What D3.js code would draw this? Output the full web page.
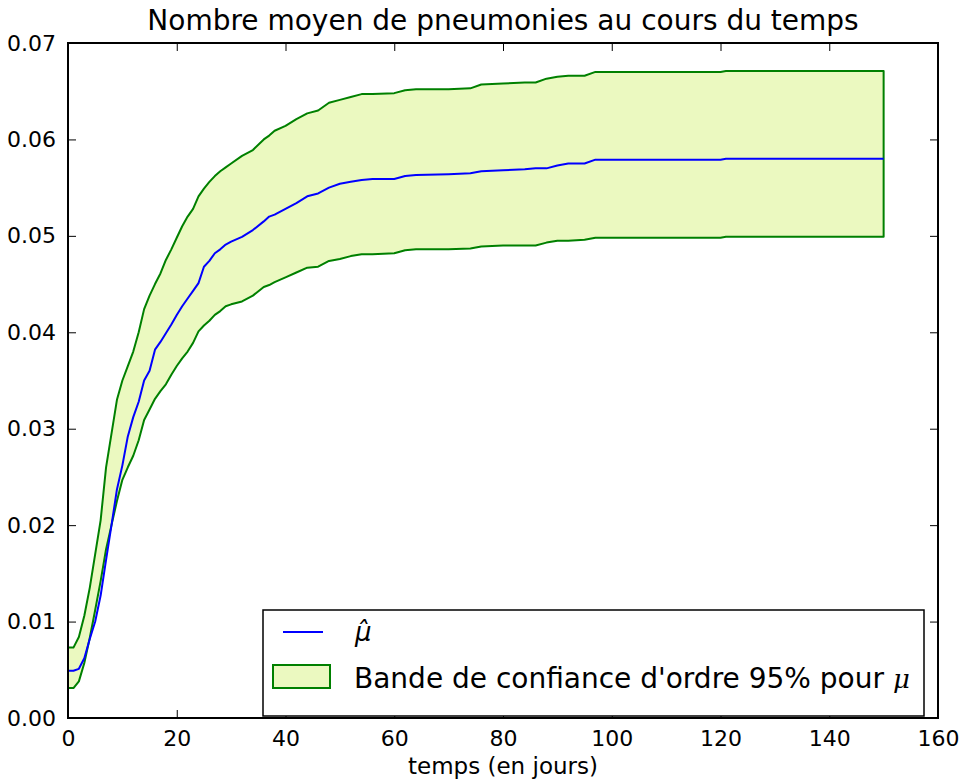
<!DOCTYPE html>
<html>
<head>
<meta charset="utf-8">
<script src="https://cdn.jsdelivr.net/npm/d3@7"></script>
<style>
  html, body { margin: 0; padding: 0; background: #ffffff; }
  svg { display: block; }
  text { font-family: "DejaVu Sans", sans-serif; fill: #000; }
</style>
</head>
<body>
<svg id="chart" width="968" height="783"></svg>
<script>
// ---- data ----
const days = [0,1,2,3,4,5,6,7,8,9,10,11,12,13,14,15,16,17,18,19,20,21,22,23,24,25,26,27,28,29,30,32,34,36,37,38,40,42,44,46,48,50,52,54,56,60,62,64,70,74,76,80,84,86,88,90,92,95,97,120,121,150];
const muHat = [.0049,.0049,.0051,.0062,.0082,.0100,.0127,.0164,.0200,.0237,.0262,.0292,.0312,.0328,.0350,.0360,.0382,.0390,.0399,.0408,.0418,.0427,.0435,.0443,.0451,.0468,.0474,.0482,.0486,.0491,.0494,.0499,.0506,.0515,.0520,.0522,.0528,.0534,.0541,.0544,.0550,.0554,.0556,.0558,.0559,.0559,.0562,.0563,.0564,.0565,.0567,.0568,.0569,.0570,.0570,.0573,.0575,.0575,.0579,.0579,.0580,.0580];
const upper = [.0073,.0073,.0084,.0106,.0135,.0170,.0205,.0260,.0295,.0330,.0350,.0365,.0380,.0400,.0424,.0438,.0450,.0461,.0475,.0486,.0498,.0510,.0520,.0528,.0541,.0549,.0556,.0562,.0567,.0571,.0575,.0583,.0589,.0600,.0604,.0609,.0614,.0621,.0627,.0630,.0638,.0641,.0644,.0647,.0647,.0648,.0651,.0652,.0652,.0653,.0657,.0658,.0659,.0659,.0663,.0665,.0666,.0666,.0670,.0670,.0671,.0671];
const lower = [.0031,.0031,.0038,.0057,.0083,.0112,.0142,.0175,.0200,.0225,.0247,.0260,.0272,.0288,.0309,.0320,.0331,.0339,.0346,.0356,.0365,.0373,.0380,.0389,.0401,.0407,.0412,.0418,.0422,.0427,.0429,.0432,.0438,.0447,.0449,.0452,.0457,.0462,.0467,.0468,.0474,.0476,.0479,.0481,.0481,.0482,.0485,.0486,.0486,.0487,.0489,.0490,.0490,.0490,.0493,.0495,.0495,.0496,.0498,.0498,.0499,.0499];
const xTicks = [0,20,40,60,80,100,120,140,160];
const yTicks = [0,0.01,0.02,0.03,0.04,0.05,0.06,0.07];
const title = "Nombre moyen de pneumonies au cours du temps";
const xLabel = "temps (en jours)";
const legendBand = "Bande de confiance d'ordre 95% pour ";

// ---- layout ----
const L = 68, R = 938, T = 43, B = 718;
const svg = d3.select("#chart");
const x = d3.scaleLinear().domain([0, 160]).range([L, R]);
const y = d3.scaleLinear().domain([0, 0.07]).range([B, T]);

const pts = days.map((d, i) => ({d, m: muHat[i], lo: lower[i], hi: upper[i]}));

// band polygon (upper forward, lower backward) with outline
const bandPts = pts.map(p => [x(p.d), y(p.hi)])
  .concat(pts.slice().reverse().map(p => [x(p.d), y(p.lo)]));
svg.append("path")
  .attr("d", d3.line()(bandPts) + "Z")
  .attr("fill", "#ebf9c0")
  .attr("stroke", "#008000")
  .attr("stroke-width", 2)
  .attr("stroke-linejoin", "round");

// mean line
svg.append("path")
  .datum(pts)
  .attr("d", d3.line().x(p => x(p.d)).y(p => y(p.m)))
  .attr("fill", "none")
  .attr("stroke", "#0000ff")
  .attr("stroke-width", 2)
  .attr("stroke-linejoin", "round");

// axes with inward ticks
const fmtY = d3.format(".2f");
const axB = d3.axisBottom(x).tickValues(xTicks).tickSizeInner(-8).tickSizeOuter(0).tickPadding(12).tickFormat(d3.format("d"));
const axT = d3.axisTop(x).tickValues(xTicks).tickSizeInner(-8).tickSizeOuter(0).tickFormat("");
const axL = d3.axisLeft(y).tickValues(yTicks).tickSizeInner(-8).tickSizeOuter(0).tickPadding(12).tickFormat(fmtY);
const axR = d3.axisRight(y).tickValues(yTicks).tickSizeInner(-8).tickSizeOuter(0).tickFormat("");

function styleAxis(g) {
  g.select(".domain").remove();
  g.selectAll(".tick line").attr("stroke", "#000").attr("stroke-width", 1);
  g.selectAll(".tick text").attr("font-family", "DejaVu Sans").attr("font-size", 22).attr("fill", "#000");
}
svg.append("g").attr("transform", `translate(0,${B})`).call(axB).call(styleAxis);
svg.append("g").attr("transform", `translate(0,${T})`).call(axT).call(styleAxis);
svg.append("g").attr("transform", `translate(${L},0)`).call(axL).call(styleAxis);
svg.append("g").attr("transform", `translate(${R},0)`).call(axR).call(styleAxis);

// frame
svg.append("rect")
  .attr("x", L).attr("y", T).attr("width", R - L).attr("height", B - T)
  .attr("fill", "none").attr("stroke", "#000").attr("stroke-width", 2);

// title & x label
svg.append("text").attr("x", (L + R) / 2).attr("y", 30)
  .attr("text-anchor", "middle").attr("font-size", 28).text(title);
svg.append("text").attr("x", (L + R) / 2).attr("y", 774)
  .attr("text-anchor", "middle").attr("font-size", 23).text(xLabel);

// legend
const lg = svg.append("g");
lg.append("rect").attr("x", 263).attr("y", 610).attr("width", 661).attr("height", 106)
  .attr("fill", "#fff").attr("stroke", "#000").attr("stroke-width", 1.5);
lg.append("line").attr("x1", 283).attr("x2", 323).attr("y1", 632).attr("y2", 632)
  .attr("stroke", "#0000ff").attr("stroke-width", 2);
lg.append("text").attr("x", 355).attr("y", 641)
  .attr("font-family", "DejaVu Serif").attr("font-style", "italic").attr("font-size", 26)
  .text("\u03bc\u0302");
lg.append("rect").attr("x", 273).attr("y", 665).attr("width", 57).attr("height", 23)
  .attr("fill", "#ebf9c0").attr("stroke", "#008000").attr("stroke-width", 2);
const t2 = lg.append("text").attr("x", 354).attr("y", 688).attr("font-size", 28);
t2.append("tspan").text(legendBand);
t2.append("tspan").attr("font-family", "DejaVu Serif").attr("font-style", "italic").attr("font-size", 26).text("\u03bc");
</script>
</body>
</html>
